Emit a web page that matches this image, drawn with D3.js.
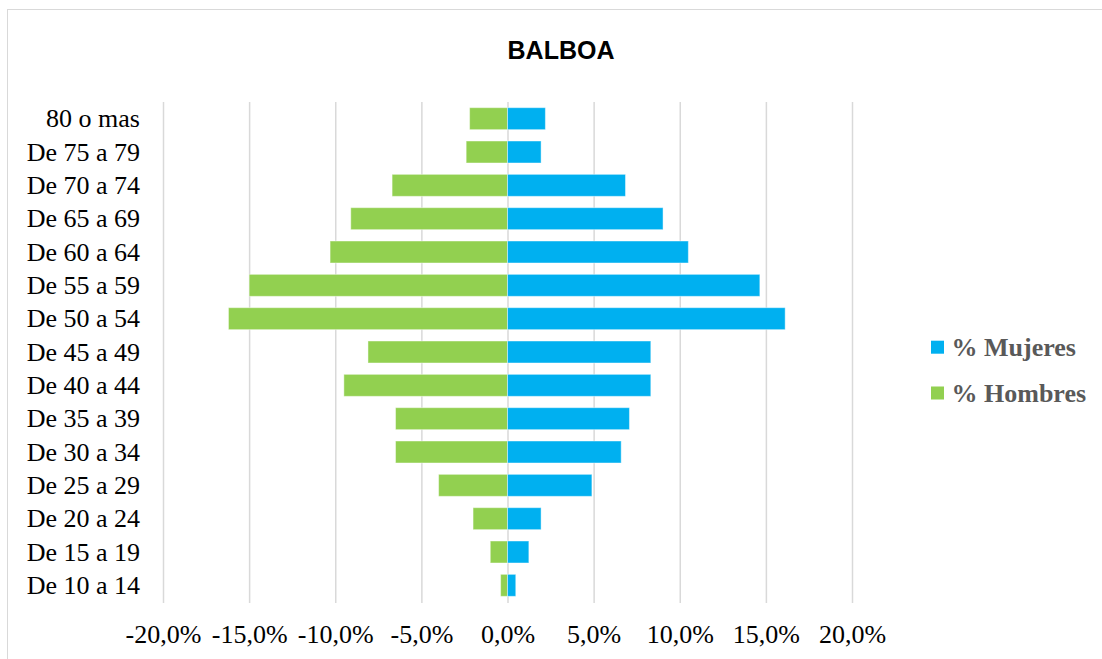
<!DOCTYPE html>
<html>
<head>
<meta charset="utf-8">
<script src="https://cdn.jsdelivr.net/npm/d3@7"></script>
<style>
  html, body { margin: 0; padding: 0; background: #fff; }
  svg { display: block; }
</style>
</head>
<body>
<svg id="chart" width="1102" height="659"></svg>
<script>
const title = "BALBOA";
const categories = ["De 10 a 14","De 15 a 19","De 20 a 24","De 25 a 29","De 30 a 34","De 35 a 39","De 40 a 44","De 45 a 49","De 50 a 54","De 55 a 59","De 60 a 64","De 65 a 69","De 70 a 74","De 75 a 79","80 o mas"];
const mujeres = [0.48, 1.24, 1.95, 4.9, 6.6, 7.08, 8.32, 8.32, 16.12, 14.65, 10.5, 9.03, 6.85, 1.95, 2.2];
const hombres = [-0.4, -1.0, -2.0, -4.0, -6.5, -6.5, -9.5, -8.1, -16.2, -15.0, -10.3, -9.1, -6.7, -2.4, -2.2];
const tickValues = [-20, -15, -10, -5, 0, 5, 10, 15, 20];
const seriesNames = ["% Mujeres", "% Hombres"];
const seriesColors = ["#00B0F0", "#92D050"];

const svg = d3.select("#chart");
const plot = { left: 163, right: 852, top: 102, bottom: 602 };

// chart border
svg.append("rect").attr("x", 7.5).attr("y", 9.5).attr("width", 1110).attr("height", 670)
  .attr("fill", "none").attr("stroke", "#d9d9d9").attr("stroke-width", 1);

const x = d3.scaleLinear().domain([-20, 20]).range([plot.left, plot.right]);
const y = d3.scaleBand().domain(categories.slice().reverse()).range([plot.top, plot.bottom])
  .paddingInner(0.34).paddingOuter(0.17);

const loc = d3.formatLocale({decimal: ",", thousands: ".", grouping: [3], currency: ["", "€"], minus: "-"});
const fmt = loc.format(".1%");

// gridlines + tick labels
const xAxis = svg.append("g").attr("transform", `translate(0,${plot.bottom + 1})`)
  .call(d3.axisBottom(x).tickValues(tickValues).tickSize(-(plot.bottom - plot.top + 1)).tickFormat(d => fmt(d / 100)));
xAxis.select(".domain").remove();
xAxis.selectAll(".tick line").attr("stroke", "#d9d9d9").attr("stroke-width", 1.5);
xAxis.selectAll(".tick text")
  .attr("y", 40).attr("dy", 0)
  .attr("font-family", "'Liberation Serif','Times New Roman',serif")
  .attr("font-size", 26).attr("fill", "#000");

// bars
const data = categories.map((c, i) => ({c, m: mujeres[i], h: hombres[i]}));
const g = svg.append("g");
g.selectAll("rect.h").data(data).join("rect").attr("class", "h")
  .attr("x", d => x(d.h)).attr("width", d => x(0) - x(d.h))
  .attr("y", d => y(d.c)).attr("height", y.bandwidth())
  .attr("fill", seriesColors[1]).attr("stroke", "rgba(255,255,255,0.45)").attr("stroke-width", 1);
g.selectAll("rect.m").data(data).join("rect").attr("class", "m")
  .attr("x", x(0)).attr("width", d => x(d.m) - x(0))
  .attr("y", d => y(d.c)).attr("height", y.bandwidth())
  .attr("fill", seriesColors[0]).attr("stroke", "rgba(255,255,255,0.45)").attr("stroke-width", 1);

// category labels
const yAxis = svg.append("g").attr("transform", `translate(140,0)`)
  .call(d3.axisLeft(y).tickSize(0).tickPadding(0));
yAxis.select(".domain").remove();
yAxis.selectAll(".tick text")
  .attr("dy", "0.33em")
  .attr("font-family", "'Liberation Serif','Times New Roman',serif")
  .attr("font-size", 26).attr("fill", "#000");

// title
svg.append("text").attr("x", 561).attr("y", 59).attr("text-anchor", "middle")
  .attr("font-family", "'Liberation Sans',Arial,sans-serif").attr("font-weight", "bold")
  .attr("font-size", 25).attr("fill", "#000").text(title);

// legend
const leg = svg.append("g").selectAll("g").data(seriesNames).join("g")
  .attr("transform", (d, i) => `translate(931,${340.7 + i * 45.8})`);
leg.append("rect").attr("width", 13).attr("height", 13).attr("fill", (d, i) => seriesColors[i]);
leg.append("text").attr("x", 20.5).attr("y", 15.5)
  .attr("font-family", "'Liberation Serif','Times New Roman',serif").attr("font-weight", "bold")
  .attr("font-size", 26).attr("fill", "#595959").text(d => d);
</script>
</body>
</html>
